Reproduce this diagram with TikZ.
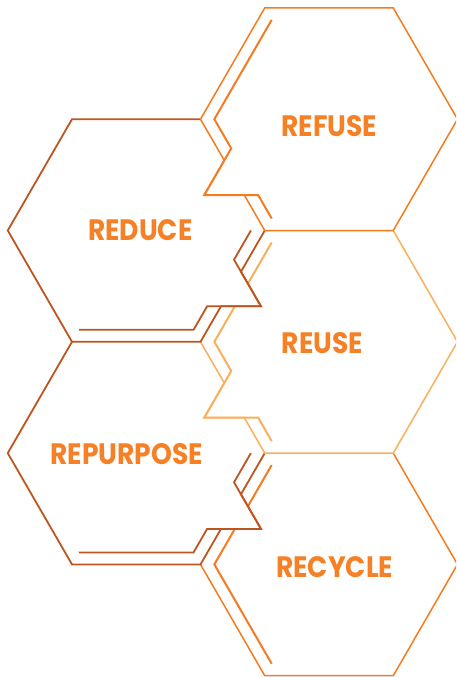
\documentclass[tikz,border=0pt]{standalone}
\usepackage{fontspec}
\setmainfont{Poppins}
\newfontfamily\lblfont{Poppins}[FakeStretch=0.9]
\definecolor{orng}{HTML}{F47B20}
\definecolor{brwn}{HTML}{BE551E}
\definecolor{lite}{HTML}{FAAF5A}
\definecolor{txt}{HTML}{F58025}
\begin{document}
\begin{tikzpicture}[x=1pt,y=-1pt,
  outer/.style={line width=1.5pt, line join=miter},
  inner/.style={line width=2pt, line join=miter},
  lbl/.style={anchor=base, inner sep=0pt, text=txt,
    font=\lblfont\fontsize{29.5}{29.5}\selectfont\bfseries}]
\useasboundingbox (0,0) rectangle (456,677);
\clip (0,0) rectangle (456,677);
% ---------- RECYCLE ----------
\draw[outer, orng] (393.25,453.1) -- (457.5,564.4) -- (393.25,675.7) -- (264.75,675.7) -- (200.5,564.4);
\draw[inner, orng] (271.68,465.1) -- (247.89,506.3);
\draw[inner, orng] (234.84,528.9) -- (214.36,564.4) -- (271.68,663.7);
% ---------- REPURPOSE ----------
\draw[outer, brwn, line width=1.8pt] (264.75,453.1) -- (240.96,494.3) -- (260.98,528.9) -- (220.98,528.9) -- (200.5,564.4) -- (72,564.4) -- (7.75,453.1) -- (72,341.8);
\draw[inner, brwn, line width=1.8pt] (250.89,453.1) -- (234.03,482.3) -- (260.98,528.9) -- (207.12,528.9) -- (193.57,552.4) -- (78.93,552.4);
% ---------- REUSE ----------
\draw[outer, lite] (393.25,230.5) -- (457.5,341.8) -- (393.25,453.1) -- (264.75,453.1) -- (244.27,417.6) -- (204.27,417.6) -- (224.29,383) -- (200.5,341.8);
\draw[inner, lite] (271.68,242.5) -- (247.89,283.7);
\draw[inner, lite] (234.84,306.3) -- (214.36,341.8) -- (231.23,371) -- (204.27,417.6) -- (258.13,417.6) -- (271.68,441.1);
% ---------- REDUCE ----------
\draw[outer, brwn, line width=1.8pt] (264.75,230.5) -- (240.96,271.7) -- (260.98,306.3) -- (220.98,306.3) -- (200.5,341.8) -- (72,341.8) -- (7.75,230.5) -- (72,119.2) -- (200.5,119.2);
\draw[inner, brwn, line width=1.8pt] (250.89,230.5) -- (234.03,259.7) -- (260.98,306.3) -- (207.12,306.3) -- (193.57,329.8) -- (78.93,329.8);
% ---------- REFUSE ----------
\draw[outer, orng] (264.75,7.9) -- (393.25,7.9) -- (457.5,119.2) -- (393.25,230.5) -- (264.75,230.5) -- (244.27,195) -- (204.27,195) -- (224.29,160.4) -- (200.5,119.2) -- cycle;
\draw[inner, orng] (271.68,19.9) -- (214.36,119.2) -- (231.23,148.4) -- (204.27,195) -- (258.13,195) -- (271.68,218.5);
% ---------- labels ----------
\node[lbl] (refuse) at (329.3,136) {REFUSE};
\node[lbl] (reduce) at (140.3,240.7) {REDUCE};
\node[lbl] (reuse) at (322.5,353.3) {REUSE};
\node[lbl] (repurpose) at (126.7,464) {REPURPOSE};
\node[lbl] (recycle) at (334.7,577.7) {RECYCLE};
\end{tikzpicture}
\end{document}
